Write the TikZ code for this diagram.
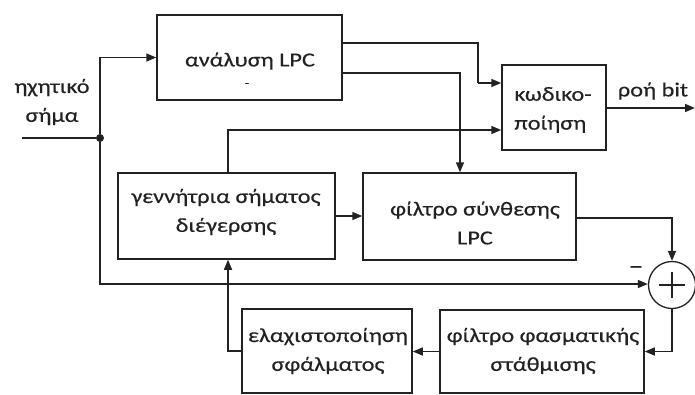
\documentclass[tikz,border=0pt]{standalone}
\usepackage{fontspec}
\setmainfont{Carlito}[FakeStretch=1.22, FakeBold=0.35]
\usetikzlibrary{arrows.meta}
\definecolor{ink}{HTML}{222222}
\tikzset{
  x=1bp, y=-1bp,
  every node/.style={text=ink, font=\fontsize{20}{29}\selectfont},
  blk/.style={draw=ink, line width=1.5bp, inner sep=0pt, align=center},
  wire/.style={draw=ink, line width=1.5bp},
  arr/.style={wire, -{Triangle[length=10bp,width=8bp]}},
  junction/.style={circle, fill=ink, inner sep=0pt, minimum size=8bp},
  summer/.style={circle, draw=ink, line width=1.3bp, minimum size=47bp, inner sep=0pt},
}
\begin{document}
\begin{tikzpicture}
\useasboundingbox (0,0) rectangle (695,394);
% blocks
\node[blk, minimum width=185bp, minimum height=85bp] (ana) at (249.5,57.5) {};
\node at (250,61) {ανάλυση LPC};
\node[font=\fontsize{12}{12}\selectfont] (dash) at (247,85) {-};
\node[blk, minimum width=104bp, minimum height=85bp] (cod) at (554,107.5) {};
\node[align=left] at (553,110) {κωδικο-\\ποίηση};
\node[blk, minimum width=217bp, minimum height=86bp] (gen) at (226.5,216) {};
\node[align=center] at (226,212) {γεννήτρια σήματος\\διέγερσης};
\node[blk, minimum width=213bp, minimum height=87bp] (syn) at (469.5,216.5) {};
\node[align=center] at (475,223) {φίλτρο σύνθεσης\\LPC};
\node[summer] (sum) at (672,285) {};
\draw[ink, line width=1.3bp] (sum.center) ++(-13,0) -- ++(26,0)
      (sum.center) ++(0,-13) -- ++(0,26);
\node[blk, minimum width=204bp, minimum height=83bp] (wgt) at (542,351.5) {};
\node[align=center] at (543,351) {φίλτρο φασματικής\\στάθμισης};
\node[blk, minimum width=170bp, minimum height=84bp] (err) at (327,351) {};
\node[align=center] at (328,351) {ελαχιστοποίηση\\σφάλματος};
% external labels
\node[align=center] (inlbl) at (52,102) {ηχητικό\\σήμα};
\node (outlbl) at (653,91) {ροή bit};
\node[font=\fontsize{25}{25}\selectfont] (minus) at (636,270) {–};
% junction and free ends
\node[junction] (dot) at (100,138) {};
\coordinate (src) at (22,138);
\coordinate (sink) at (695,108);
\coordinate (c1) at (478,83);
% connectors
\draw[wire] (src) -- (dot);
\draw[arr] (dot) |- (ana.west);
\draw[arr] (dot) |- ([yshift=1bp]sum.west);
\draw[wire] ([yshift=14.5bp]ana.east) -| (c1);
\draw[arr] (c1) -- (c1 -| cod.west);
\draw[arr] ([yshift=-15.5bp]ana.east) -| ([xshift=-9.5bp]syn.north);
\draw[arr] ([xshift=1.5bp]gen.north) |- ([yshift=-22.5bp]cod.west);
\draw[arr] (gen.east) -- (gen.east -| syn.west);
\draw[arr] ([yshift=-1.5bp]syn.east) -| (sum.north);
\draw[arr] (sum.south) |- (wgt.east);
\draw[arr] (wgt.west) -- (wgt.west -| err.east);
\draw[arr] (err.west) -| ([xshift=1.5bp]gen.south);
\draw[arr] (cod.east |- sink) -- (sink);
\end{tikzpicture}
\end{document}
